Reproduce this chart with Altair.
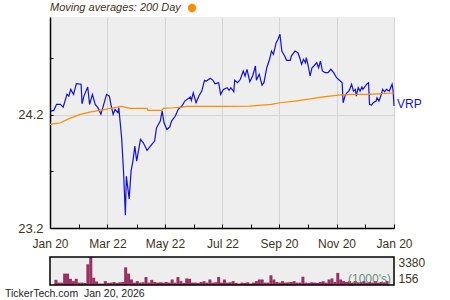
import altair as alt
import pandas as pd

# ---- data ----
price_days = [1, 4, 7, 11, 14, 18, 20, 22, 25, 28,
              33, 34, 36, 40, 42, 45, 48, 51, 54, 57,
              60, 63, 65, 67, 69, 72, 73, 76, 78, 80,
              81, 84, 86, 88, 90, 92, 96, 99, 103, 108,
              111, 113, 117, 119, 121, 124, 127, 129, 133, 136,
              140, 143, 149, 150, 152, 155, 158, 161, 164, 166,
              170, 173, 175, 179, 181, 184, 188, 190, 192, 195,
              196, 199, 202, 205, 207, 209, 212, 215, 218, 219,
              222, 225, 227, 230, 233, 235, 237, 240, 242, 244,
              246, 249, 251, 255, 256, 260, 263, 265, 267, 269,
              271, 272, 274, 276, 278, 280, 283, 285, 287, 289,
              292, 295, 298, 301, 304, 308, 310, 311, 313, 315,
              317, 318, 320, 322, 324, 325, 327, 329, 331, 332,
              334, 336, 338, 339, 341, 343, 346, 347, 349, 351,
              353, 355, 357, 360, 363, 364, 365]
price_vals = [24.231, 24.237, 24.290, 24.290, 24.266, 24.378, 24.363, 24.422, 24.378, 24.472,
              24.467, 24.295, 24.363, 24.443, 24.290, 24.378, 24.290, 24.260, 24.202, 24.290,
              24.378, 24.363, 24.275, 24.202, 24.246, 24.216, 24.260, 23.995, 23.701, 23.313,
              23.657, 23.457, 23.701, 23.790, 23.922, 23.790, 23.981, 23.951, 23.884, 23.937,
              23.966, 24.083, 24.143, 24.231, 24.128, 24.069, 24.090, 24.143, 24.187, 24.246,
              24.275, 24.319, 24.354, 24.325, 24.392, 24.304, 24.363, 24.407, 24.502, 24.496,
              24.520, 24.502, 24.472, 24.481, 24.378, 24.422, 24.437, 24.414, 24.437, 24.401,
              24.502, 24.481, 24.511, 24.584, 24.540, 24.599, 24.490, 24.540, 24.628, 24.502,
              24.555, 24.460, 24.481, 24.613, 24.687, 24.760, 24.731, 24.834, 24.864, 24.908,
              24.760, 24.716, 24.678, 24.678, 24.716, 24.760, 24.745, 24.701, 24.643, 24.687,
              24.657, 24.701, 24.628, 24.540, 24.613, 24.628, 24.657, 24.613, 24.672, 24.584,
              24.569, 24.569, 24.599, 24.569, 24.525, 24.496, 24.481, 24.304, 24.363, 24.392,
              24.407, 24.422, 24.467, 24.407, 24.422, 24.363, 24.437, 24.407, 24.443, 24.422,
              24.443, 24.467, 24.481, 24.290, 24.284, 24.304, 24.319, 24.348, 24.319, 24.363,
              24.422, 24.401, 24.422, 24.407, 24.467, 24.414, 24.275]

ma_days = [0, 11, 21, 32, 42, 53, 64, 76, 85, 103,
           104, 119, 120, 131, 140, 145, 186, 212, 235, 244,
           260, 276, 288, 306, 320, 338, 352, 365]
ma_vals = [24.113, 24.128, 24.166, 24.202, 24.222, 24.237, 24.255, 24.272, 24.255, 24.255,
           24.237, 24.237, 24.255, 24.260, 24.266, 24.272, 24.272, 24.275, 24.290, 24.304,
           24.319, 24.339, 24.354, 24.372, 24.378, 24.378, 24.384, 24.390]

volume_k = [750, 430, 430, 1470, 1470, 870, 600, 870, 430, 430,
            400, 2550, 3380, 990, 560, 320, 320, 600, 400, 430,
            500, 400, 470, 500, 2190, 1470, 790, 430, 600, 430,
            470, 1070, 430, 750, 500, 430, 470, 430, 500, 430,
            790, 430, 1070, 600, 400, 910, 870, 430, 430, 400,
            500, 590, 430, 790, 430, 470, 1070, 430, 790, 430,
            470, 600, 400, 320, 430, 400, 470, 320, 430, 600,
            790, 790, 430, 430, 1270, 790, 500, 430, 600,
            430, 470, 500, 590, 430, 430, 1110, 430, 400, 470,
            430, 400, 500, 590, 430, 790, 910, 500, 1550, 790,
            600, 500, 600, 430, 600, 430, 500, 600, 430, 500,
            430, 600, 430, 500, 430, 600]

major_ticks = [(2025, 1, 20), (2025, 3, 22), (2025, 5, 22), (2025, 7, 22),
               (2025, 9, 20), (2025, 11, 20), (2026, 1, 20)]
minor_ticks = [(2025, 2, 20), (2025, 4, 22), (2025, 6, 22), (2025, 8, 21),
               (2025, 10, 21), (2025, 12, 20)]
y_labels = [23.2, 24.2]
y_ticks = [23.2, 23.7, 24.2, 24.7]
vol_labels = [156, 3380]
ticker = "VRP"
title_text = "Moving averages: 200 Day"
footer_text = "TickerTech.com\u00a0\u00a0Jan 20, 2026"
units_text = "(1000's)"

# ---- tables ----
base = pd.Timestamp("2025-01-20")
fmt = "%Y-%m-%dT%H:%M:%S"
price_df = pd.DataFrame({
    "date": [(base + pd.Timedelta(days=d)).strftime(fmt) for d in price_days],
    "price": price_vals,
})
ma_df = pd.DataFrame({
    "date": [(base + pd.Timedelta(days=d)).strftime(fmt) for d in ma_days],
    "ma": ma_vals,
})
vol_df = pd.DataFrame({
    "date": [t.strftime(fmt) for t in pd.date_range("2025-01-21", "2026-01-18", periods=len(volume_k))],
    "vol": volume_k,
})
last_df = price_df.tail(1).assign(label=ticker)

def dt(t):
    return alt.DateTime(year=t[0], month=t[1], date=t[2])

x_dom = [dt(major_ticks[0]), dt(major_ticks[-1])]
x_scale = alt.Scale(domain=x_dom)
y_scale = alt.Scale(domain=[23.2, 25.06], nice=False, zero=False)

TXT = "#3f3320"
BLUE = "#1010e0"
ORANGE = "#ff8c00"
GRID = "#d4d4d4"
BG = "#eeeeee"
W, H, VH = 344, 211, 28

price_line = alt.Chart(price_df).mark_line(color=BLUE, strokeWidth=1.2).encode(
    x=alt.X("date:T", scale=x_scale, title=None,
            axis=alt.Axis(orient="bottom", values=[dt(t) for t in major_ticks], format="%b %d",
                          labelFontSize=12, labelColor=TXT, labelPadding=10, ticks=False,
                          domainColor="black", domainWidth=1.5, grid=True, gridColor=GRID,
                          labelFlush=False, labelOverlap=False)),
    y=alt.Y("price:Q", scale=y_scale, title=None,
            axis=alt.Axis(orient="left", values=y_labels, format=".1f", labelFontSize=13,
                          labelColor=TXT, labelPadding=7, ticks=False, domainColor="black",
                          domainWidth=1.5, grid=True, gridColor=GRID)),
)

ma_line = alt.Chart(ma_df).mark_line(color=ORANGE, strokeWidth=1.2).encode(
    x=alt.X("date:T", scale=x_scale, title=None,
            axis=alt.Axis(orient="top", offset=-H, values=[dt(t) for t in major_ticks + minor_ticks],
                          labels=False, domain=False, grid=False, ticks=True, tickSize=4,
                          tickColor="black", tickWidth=1)),
    y=alt.Y("ma:Q", scale=y_scale, title=None,
            axis=alt.Axis(orient="right", offset=-W, values=y_ticks, labels=False, domain=False,
                          grid=False, ticks=True, tickSize=3, tickColor="black", tickWidth=1)),
)

label = alt.Chart(last_df).mark_text(align="left", baseline="middle", dx=3, dy=-2,
                                     fontSize=12, color=BLUE).encode(
    x=alt.X("date:T", scale=x_scale, axis=None),
    y=alt.Y("price:Q", scale=y_scale, axis=None),
    text="label:N",
)

title_df = pd.DataFrame({"t": [title_text]})
title = alt.Chart(title_df).mark_text(align="left", baseline="middle", fontSize=11,
                                      fontStyle="italic", color=TXT).encode(
    x=alt.value(0), y=alt.value(-9), text="t:N")
dot = alt.Chart(title_df).mark_point(filled=True, size=70, color=ORANGE, opacity=1).encode(
    x=alt.value(142), y=alt.value(-9))

main = alt.layer(price_line, ma_line, label, title, dot).resolve_axis(
    x="independent", y="independent"
).properties(width=W, height=H,
             view=alt.ViewBackground(fill=BG, stroke="transparent", strokeWidth=0))

bars = alt.Chart(vol_df).mark_bar(color="#9b2f62", size=3, clip=True).encode(
    x=alt.X("date:T", scale=x_scale, axis=None),
    y=alt.Y("vol:Q", scale=alt.Scale(domain=[156, 3380], nice=False, zero=False), title=None,
            axis=alt.Axis(orient="right", values=vol_labels, format="d", labelFontSize=12,
                          labelColor=TXT, labelPadding=4, ticks=False, domain=False, grid=False,
                          labelFlush=True)),
)
units_df = pd.DataFrame({"t": [units_text]})
units = alt.Chart(units_df).mark_text(align="right", baseline="bottom", fontSize=12,
                                      color="#4f8068", opacity=0.85).encode(
    x=alt.value(341), y=alt.value(VH + 1), text="t:N")
frame = alt.Chart(units_df).mark_rect(filled=False, stroke="#000000", strokeWidth=1.5).encode(
    x=alt.value(0), x2=alt.value(W), y=alt.value(0), y2=alt.value(VH))
footer_df = pd.DataFrame({"t": [footer_text]})
footer = alt.Chart(footer_df).mark_text(align="left", baseline="middle", fontSize=10.5,
                                        color="#222222").encode(
    x=alt.value(-45), y=alt.value(VH + 9), text="t:N")

vol = alt.layer(bars, units, frame, footer).properties(
    width=W, height=VH,
    view=alt.ViewBackground(fill=BG, stroke="transparent", strokeWidth=0))

chart = alt.vconcat(main, vol, spacing=7).properties(
    padding={"left": 5, "top": 2, "right": 0, "bottom": 0}
).configure(font="Liberation Sans")

chart.save("out.html", embed_options={"renderer": "svg", "actions": False})
